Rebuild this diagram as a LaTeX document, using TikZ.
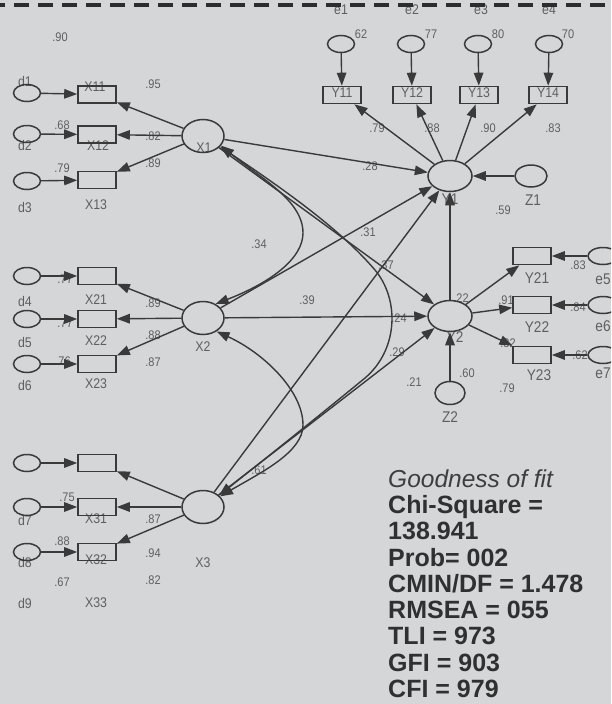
\documentclass[tikz,border=0pt]{standalone}
\usepackage{fontspec}
\setmainfont{Liberation Sans}
\newfontfamily\labfont[FakeStretch=0.88]{Liberation Sans}
\usetikzlibrary{shapes.geometric,arrows.meta}
\definecolor{bg}{RGB}{212,214,216}
\definecolor{ln}{RGB}{58,58,58}
\definecolor{tx}{RGB}{95,95,95}
\definecolor{fitc}{RGB}{48,48,48}
\begin{document}
\begin{tikzpicture}[x=1pt,y=-1pt,
  lat/.style={ellipse,draw=ln,line width=1.5pt,inner sep=0pt},
  xlat/.style={lat,minimum width=42pt,minimum height=33pt},
  ylat/.style={lat,minimum width=44pt,minimum height=31pt},
  obs/.style={rectangle,draw=ln,line width=1.6pt,minimum width=38pt,minimum height=17pt,inner sep=0pt},
  err/.style={lat,minimum width=27pt,minimum height=17pt},
  lbl/.style={text=tx,font=\labfont\fontsize{12.5}{13}\selectfont,inner sep=0pt},
  vlbl/.style={text=tx,font=\labfont\fontsize{14}{15}\selectfont,inner sep=0pt},
  vlblb/.style={text=tx,font=\labfont\fontsize{15.5}{16}\selectfont,inner sep=0pt},
  arr/.style={draw=ln,line width=1.4pt,-{Triangle[length=13pt,width=9.5pt]}},
  darr/.style={draw=ln,line width=1.4pt,{Triangle[length=13pt,width=9.5pt]}-{Triangle[length=13pt,width=9.5pt]}},
  fitt/.style={anchor=base west,inner sep=0pt,text=fitc,font=\fontsize{25}{26}\selectfont\bfseries}
]
\fill[bg] (0,0) rectangle (611,704);
\useasboundingbox (0,0) rectangle (611,704);
\clip (0,0) rectangle (611,704);

% number labels
\foreach \x/\y/\s [count=\i] in {60/37/.90, 153/84/.95, 62/125/.68, 153/136/.82, 62/168/.79, 153/163/.89,
  65/279/.77, 153/303/.89, 65/323/.77, 153/335/.88, 63/361/.76, 153/362/.87,
  67/497/.75, 153/519/.87, 62/541/.88, 153/553/.94, 62/582/.67, 153/580/.82,
  361/34/62, 431/34/77, 498/34/80, 568/34/70,
  377/128/.79, 432/128/.88, 488/128/.90, 553/128/.83,
  370/166/.28, 368/232/.31, 259/244/.34, 386/265/.37, 307/300/.39, 399/318/.24, 397/352/.29, 414/382/.21, 259/470/.61,
  503/210/.59, 461/298/.22, 506/300/.91, 508/343/.82, 578/265/.83, 578/307/.84, 580/355/.62, 467/373/.60, 507/388/.79}
  {\node[lbl] (n\i) at (\x,\y) {\s};}

% name labels
\foreach \x/\y/\s [count=\i] in {25/81/d1, 95/87/X11, 25/145/d2, 98/146/X12, 25/207/d3, 96/205/X13, 204/148/X1,
  25/301/d4, 96/300/X21, 25/342/d5, 96/341/X22, 25/385/d6, 96/384/X23, 203/347/X2,
  25/520/d7, 96/519/X31, 25/562/d8, 96/560/X32, 25/603/d9, 96/603/X33, 203/563/X3,
  341/10/e1, 412/10/e2, 481/10/e3, 549/10/e4,
  342/93/Y11, 412/93/Y12, 479/93/Y13, 548/93/Y14}
  {\node[vlbl] (v\i) at (\x,\y) {\s};}
\foreach \x/\y/\s [count=\i] in {450/199/Y1, 533/200/Z1,
  537/278/Y21, 603/279/e5, 537/327/Y22, 603/326/e6, 539/375/Y23, 603/373/e7,
  455/337/Y2, 450/417/Z2}
  {\node[vlblb] (w\i) at (\x,\y) {\s};}

% latent variables
\node[xlat] (X1) at (203,136) {};
\node[xlat] (X2) at (203,318) {};
\node[xlat] (X3) at (203,507) {};
\node[ylat] (Y1) at (450,176) {};
\node[ylat] (Y2) at (450,316) {};
\node[lat,minimum width=32pt,minimum height=22pt] (Z1) at (531,176) {};
\node[lat,minimum width=30pt,minimum height=23pt] (Z2) at (450,393) {};

% X indicators
\foreach \n/\y in {X11/94.5, X12/134.5, X13/180, X21/276, X22/319, X23/364, X3a/463, X31/507, X32/552}
  {\node[obs] (\n) at (97,\y) {};}
\foreach \n/\y in {d1/93, d2/134, d3/181, d4/276, d5/319, d6/364, dx/463, d7/507, d8/552}
  {\node[err] (\n) at (27,\y) {};}

% Y1 indicators
\foreach \n/\x in {Y11/342, Y12/412, Y13/479, Y14/548}
  {\node[obs] (\n) at (\x,95) {};}
\foreach \n/\x in {e1/341, e2/411, e3/478, e4/549}
  {\node[err] (\n) at (\x,44) {};}

% Y2 indicators
\foreach \n/\y in {Y21/256, Y22/305, Y23/355}
  {\node[obs] (\n) at (532,\y) {};}
\foreach \n/\y in {e5/256, e6/305, e7/355}
  {\node[err,minimum width=30pt] (\n) at (603,\y) {};}

% measurement arrows
\foreach \d/\b in {d1/X11, d2/X12, d3/X13, d4/X21, d5/X22, d6/X23, dx/X3a, d7/X31, d8/X32}
  {\draw[arr] (\d) -- (\b);}
\foreach \b in {X11, X12, X13} {\draw[arr] (X1) -- (\b);}
\foreach \b in {X21, X22, X23} {\draw[arr] (X2) -- (\b);}
\foreach \b in {X3a, X31, X32} {\draw[arr] (X3) -- (\b);}
\foreach \e/\b in {e1/Y11, e2/Y12, e3/Y13, e4/Y14} {\draw[arr] (\e) -- (\b);}
\foreach \b in {Y11, Y12, Y13, Y14} {\draw[arr] (Y1) -- (\b);}
\foreach \e/\b in {e5/Y21, e6/Y22, e7/Y23} {\draw[arr] (\e) -- (\b);}
\foreach \b in {Y21, Y22, Y23} {\draw[arr] (Y2) -- (\b);}

% structural arrows
\draw[arr] (X1) -- (Y1);
\draw[arr] (X2) -- (Y1);
\draw[arr] (X3) -- (Y1);
\draw[arr] (X1) -- (Y2);
\draw[arr] (X2) -- (Y2);
\draw[arr] (X3) -- (Y2);
\draw[arr] (Y2) -- (Y1);
\draw[arr] (Z1) -- (Y1);
\draw[arr] (Z2) -- (Y2);

% correlations
\draw[darr] (X1.-28) .. controls (260,178) and (303,200) .. (303,233)
  .. controls (303,258) and (272,282) .. (X2.48);
\draw[darr] (X2.-45) .. controls (262,352) and (303,390) .. (303,425)
  .. controls (303,452) and (262,472) .. (X3.32);
\draw[darr] (X1.-32) .. controls (300,200) and (345,235) .. (375,270)
  .. controls (400,300) and (398,350) .. (365,378)
  .. controls (320,415) and (270,455) .. (X3.36);

% goodness of fit
\node[fitt,font=\fontsize{24.5}{26}\selectfont\itshape,text={rgb,255:red,62;green,62;blue,62}] (f1) at (388,487) {Goodness of fit};
\node[fitt] (f2) at (388,513) {Chi-Square =};
\node[fitt] (f3) at (388,539.5) {138.941};
\node[fitt] (f4) at (388,566) {Prob= 002};
\node[fitt] (f5) at (388,592) {CMIN/DF = 1.478};
\node[fitt] (f6) at (388,618) {RMSEA = 055};
\node[fitt] (f7) at (388,644.5) {TLI = 973};
\node[fitt] (f8) at (388,671) {GFI = 903};
\node[fitt] (f9) at (388,697) {CFI = 979};

% top dashed border
\draw[draw={rgb,255:red,45;green,45;blue,45},line width=3.5pt,dash pattern=on 15pt off 9pt,dash phase=10pt] (0,5) -- (611,5);
\end{tikzpicture}
\end{document}
